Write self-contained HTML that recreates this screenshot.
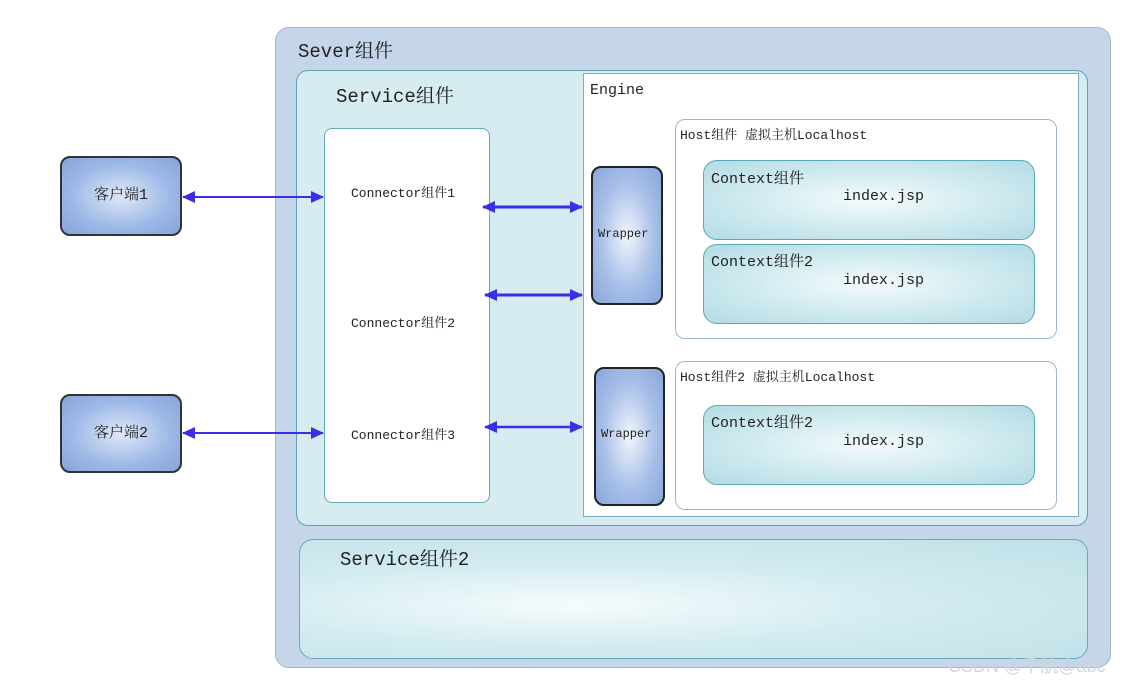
<!DOCTYPE html>
<html><head><meta charset="utf-8"><style>
body{margin:0;width:1133px;height:684px;background:#fff;position:relative;overflow:hidden;font-family:"Liberation Mono","Noto Serif CJK SC",monospace;color:#222}
div{position:absolute;box-sizing:border-box}
.t{white-space:nowrap}
.ctx{border:1.5px solid #5aa8b8;border-radius:14px;background:radial-gradient(ellipse at 50% 50%,#f4fbfc 0%,#cbe8ee 60%,#b4dbe3 100%)}
.wr{border:2px solid #222;border-radius:10px;background:radial-gradient(ellipse at 50% 50%,#f2f5fc 0%,#a9c0e8 55%,#86a6dc 100%)}
.cl{border:2px solid #333;border-radius:10px;background:radial-gradient(ellipse at 50% 50%,#dfe8f8 0%,#9db8e6 60%,#86a4da 100%);font-size:15px;text-align:center;line-height:76px}
</style></head><body>
<div style="left:275px;top:27px;width:836px;height:641px;background:#c5d5ea;border:1.5px solid #a8b6c6;border-radius:14px"></div>
<div class="t" style="left:298px;top:36px;font-size:19px">Sever组件</div>
<div style="left:296px;top:70px;width:792px;height:456px;background:#d7ecf1;border:1.5px solid #5f9fae;border-radius:12px"></div>
<div class="t" style="left:336px;top:81px;font-size:19px">Service组件</div>
<div style="left:324px;top:128px;width:166px;height:375px;background:#fff;border:1.5px solid #6aa9b5;border-radius:8px"></div>
<div class="t" style="left:351px;top:182px;font-size:13px">Connector组件1</div>
<div class="t" style="left:351px;top:312px;font-size:13px">Connector组件2</div>
<div class="t" style="left:351px;top:424px;font-size:13px">Connector组件3</div>
<div style="left:583px;top:73px;width:496px;height:444px;background:#fff;border:1.5px solid #7fa9c8"></div>
<div class="t" style="left:590px;top:82px;font-size:15px">Engine</div>
<div style="left:675px;top:119px;width:382px;height:220px;background:#fff;border:1.5px solid #9ab8d8;border-radius:10px"></div>
<div class="t" style="left:680px;top:124px;font-size:13px">Host组件 虚拟主机Localhost</div>
<div class="ctx" style="left:703px;top:160px;width:332px;height:80px"></div>
<div class="t" style="left:711px;top:167px;font-size:15px">Context组件</div>
<div class="t" style="left:843px;top:188px;font-size:15px">index.jsp</div>
<div class="ctx" style="left:703px;top:244px;width:332px;height:80px"></div>
<div class="t" style="left:711px;top:250px;font-size:15px">Context组件2</div>
<div class="t" style="left:843px;top:272px;font-size:15px">index.jsp</div>
<div style="left:675px;top:361px;width:382px;height:149px;background:#fff;border:1.5px solid #9ab8d8;border-radius:10px"></div>
<div class="t" style="left:680px;top:366px;font-size:13px">Host组件2 虚拟主机Localhost</div>
<div class="ctx" style="left:703px;top:405px;width:332px;height:80px"></div>
<div class="t" style="left:711px;top:411px;font-size:15px">Context组件2</div>
<div class="t" style="left:843px;top:433px;font-size:15px">index.jsp</div>
<div class="wr" style="left:591px;top:166px;width:72px;height:139px"></div>
<div class="t" style="left:598px;top:227px;font-size:12px">Wrapper</div>
<div class="wr" style="left:594px;top:367px;width:71px;height:139px"></div>
<div class="t" style="left:601px;top:427px;font-size:12px">Wrapper</div>
<div style="left:299px;top:539px;width:789px;height:120px;border:1.5px solid #6aa9b5;border-radius:14px;background:radial-gradient(ellipse at 35% 55%,#f6fbfc 0%,#d3ecf1 45%,#bfe0e7 100%)"></div>
<div class="t" style="left:340px;top:544px;font-size:19px">Service组件2</div>
<div class="cl" style="left:60px;top:156px;width:122px;height:80px">客户端1</div>
<div class="cl" style="left:60px;top:394px;width:122px;height:79px">客户端2</div>
<svg style="position:absolute;left:0;top:0" width="1133" height="684">
<defs><marker id="a" markerWidth="13" markerHeight="12" refX="12" refY="6" orient="auto-start-reverse" markerUnits="userSpaceOnUse"><path d="M0,0L13,6L0,12z" fill="#3a2ee8"/></marker></defs>
<g stroke="#3a2ee8" stroke-width="2" marker-start="url(#a)" marker-end="url(#a)">
<line x1="183" y1="197" x2="323" y2="197"/>
<line x1="183" y1="433" x2="323" y2="433"/>
<line x1="483" y1="207" x2="582" y2="207" stroke-width="3"/>
<line x1="485" y1="295" x2="582" y2="295" stroke-width="3"/>
<line x1="485" y1="427" x2="582" y2="427" stroke-width="2.5"/>
</g></svg>
<div class="t" style="left:948px;top:652px;font-size:18px;color:#d0d6de;font-family:'Liberation Sans','Noto Sans CJK SC',sans-serif">CSDN @千航@abc</div>
</body></html>
